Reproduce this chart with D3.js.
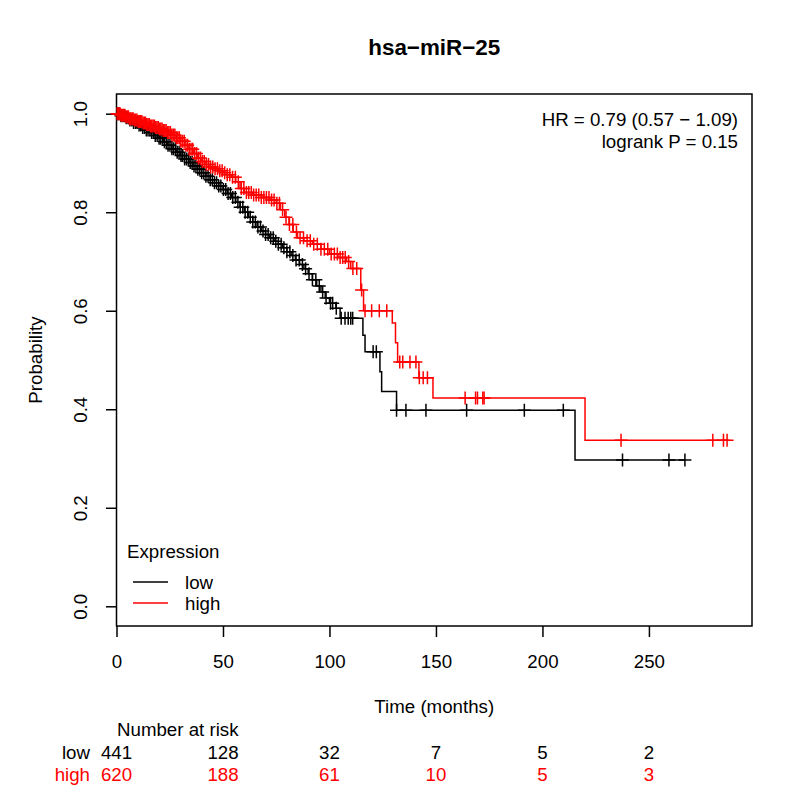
<!DOCTYPE html>
<html>
<head>
    <meta charset="utf-8" />
    <title>hsa-miR-25</title>
    <style>
        body { margin: 0; background: #fff; }
        text { font-family: "Liberation Sans", Arial, sans-serif; }
    </style>
</head>
<body>
    <div id="chart"></div>
    <script src="https://cdn.jsdelivr.net/npm/d3@7"></script>
    <script>
        // ---------------- data ----------------
        var title = "hsa\u2212miR\u221225";
        var hrText = "HR = 0.79 (0.57 \u2212 1.09)";
        var pText = "logrank P = 0.15";
        var groups = ["low", "high"];
        var groupColors = ["#000000", "#ff0000"];

        // [time, survival after the drop]
        var lowSteps = [[0,1],[2,0.996],[4,0.992],[6,0.987],[8,0.982],[10,0.977],[12,0.972],[14,0.967],[16,0.962],[18,0.956],
            [20,0.95],[22,0.943],[24,0.936],[26,0.929],[28,0.922],[30,0.915],[32,0.908],[34,0.901],[36,0.894],[38,0.887],
            [40,0.88],[42,0.873],[44,0.866],[46,0.86],[48,0.853],[50,0.846],[52,0.838],[54,0.83],[56,0.82],[58,0.81],
            [60,0.8],[62,0.79],[64,0.78],[66,0.77],[68,0.762],[70,0.755],[72,0.748],[74,0.741],[76,0.735],[78,0.728],
            [80,0.72],[82,0.712],[84,0.703],[86,0.694],[88,0.685],[90,0.675],[92,0.663],[94,0.65],[96,0.638],[98,0.626],
            [100,0.615],[103,0.605],[105,0.585],[115.7,0.55],[116.7,0.517],[123.7,0.476],[124.5,0.436],[131.5,0.398],[215.3,0.297]];
        var lowCensor = [0.5,1.2,2.1,3,3.8,4.6,5.5,6.3,7.2,8,8.9,9.7,10.6,11.4,12.3,13.1,14,14.8,15.7,16.5,17.4,18.2,19.1,20,
            20.8,21.7,22.5,23.4,24.2,25.1,26,26.8,27.7,28.5,29.4,30.3,31.1,32,32.9,33.8,34.6,35.5,36.4,37.3,38.2,39.1,40,
            41,42,43,44,45,46,47,48,49,50.2,51.3,52.4,53.5,54.6,55.8,57,58.1,59.3,60.4,61.6,62.8,64,65.2,66.4,67.6,68.8,70,
            71.2,72.4,73.6,74.8,76,77.3,78.6,80,81.4,82.8,84.3,85.8,87.3,88.8,90.4,92,93.6,95.2,96.8,98.4,100.5,101.5,103.2,
            105.5,107.3,108.8,110,110.9,120.5,122,131.5,135.9,145.3,164.4,191.5,209.8,237.6,259.4,266.9];

        var highSteps = [[0,1],[2,0.997],[4,0.994],[6,0.99],[8,0.987],[10,0.984],[12,0.981],[14,0.978],[16,0.975],[18,0.972],
            [20,0.969],[22,0.966],[24,0.962],[26,0.957],[28,0.951],[30,0.944],[32,0.936],[34,0.928],[36,0.919],[38,0.91],
            [40,0.903],[42,0.897],[44,0.892],[46,0.888],[48,0.884],[50,0.88],[52,0.876],[54,0.871],[56,0.862],[58,0.848],
            [60,0.84],[64,0.835],[68,0.83],[72,0.825],[75,0.818],[77,0.805],[79,0.79],[81,0.775],[83,0.76],[85,0.748],
            [88,0.742],[92,0.735],[96,0.725],[100,0.715],[104,0.708],[108,0.7],[110,0.686],[114.7,0.642],[116,0.6],
            [129.5,0.575],[131,0.535],[132,0.496],[142,0.464],[148.6,0.423],[220,0.337]];
        var highCensor = [0.3,0.8,1.2,1.7,2.2,2.8,3.3,3.9,4.4,5,5.6,6.1,6.7,7.3,7.8,8.4,9,9.6,10.2,10.8,11.3,11.9,12.5,13.1,
            13.6,14.2,14.8,15.4,16,16.6,17.2,17.8,18.4,19,19.6,20.2,20.8,21.4,22,22.7,23.3,24,24.6,25.3,26,26.7,27.4,28.1,
            28.8,29.5,30.2,31,31.8,32.6,33.4,34.2,35,35.8,36.7,37.6,38.5,39.4,40.3,41.2,42.2,43.2,44.2,45.2,46.3,47.4,48.5,
            49.6,50.8,52,53.2,54.5,55.8,57.2,58.6,59.8,61,62.1,63.3,64.4,65.6,66.8,68,69.2,70.4,71.6,72.8,74,75.3,76.5,78,
            79.6,81.2,82.8,84.5,86.2,87.8,89.5,91,92.6,94.3,96,97.6,99.2,100.8,102.3,103.7,105,106.2,107.4,109,111,112.8,
            115.1,116.7,119.8,123.4,126.9,133,134.4,137.8,140.6,142.2,144,146,163.7,168.6,169.5,172,172.6,236.9,280,285,286.7];

        var riskTimes = [0, 50, 100, 150, 200, 250];
        var lowRisk = [441, 128, 32, 7, 5, 2];
        var highRisk = [620, 188, 61, 10, 5, 3];
        var xTicks = [0, 50, 100, 150, 200, 250];
        var yTicks = [0, 0.2, 0.4, 0.6, 0.8, 1.0];
        // ------------------------------------------------------------

        var margins = { left: 116.5, right: 48, top: 94, bottom: 174 };
        var width = 800 - margins.left - margins.right;
        var height = 800 - margins.top - margins.bottom;
        var fontSize = 18.7;
        var lineWidth = 1.5;

        var root = d3.select("#chart")
            .append("svg")
            .attr("width", 800)
            .attr("height", 800);
        var svg = root.append("g")
            .attr("transform", "translate(" + margins.left + "," + margins.top + ")");

        var x = d3.scaleLinear().domain([0, 298.4]).range([0, width]);
        var y = d3.scaleLinear().domain([-0.04, 1.04]).range([height, 0]);

        // axes
        var xAxis = d3.axisBottom(x).tickValues(xTicks).tickSize(11).tickSizeOuter(0).tickPadding(17.5);
        var yAxis = d3.axisLeft(y).tickValues(yTicks).tickSize(10.5).tickSizeOuter(0).tickFormat(d3.format(".1f"));

        var gx = svg.append("g")
            .attr("class", "x axis")
            .attr("transform", "translate(0," + height + ")")
            .call(xAxis);
        var gy = svg.append("g")
            .attr("class", "y axis")
            .call(yAxis);
        [gx, gy].forEach(function (g) {
            g.select(".domain").remove();
            g.selectAll("line").attr("stroke", "#000").attr("stroke-width", lineWidth);
            g.selectAll("text").attr("fill", "#000").style("font-size", fontSize + "px")
                .style("font-family", "'Liberation Sans', Arial, sans-serif");
        });
        gy.selectAll("text")
            .attr("x", null)
            .attr("dy", null)
            .attr("text-anchor", "middle")
            .attr("transform", "translate(-29.5,0) rotate(-90)");

        // box
        svg.append("rect")
            .attr("width", width)
            .attr("height", height)
            .attr("fill", "none")
            .attr("stroke", "#000")
            .attr("stroke-width", lineWidth);

        // titles
        root.append("text")
            .attr("x", margins.left + width / 2)
            .attr("y", 55)
            .attr("text-anchor", "middle")
            .style("font-size", "22.4px")
            .style("font-weight", "bold")
            .text(title);
        root.append("text")
            .attr("x", margins.left + width / 2)
            .attr("y", 713)
            .attr("text-anchor", "middle")
            .style("font-size", fontSize + "px")
            .text("Time (months)");
        root.append("text")
            .attr("transform", "translate(42," + (margins.top + height / 2) + ") rotate(-90)")
            .attr("text-anchor", "middle")
            .style("font-size", fontSize + "px")
            .text("Probability");

        // HR / logrank
        root.append("text")
            .attr("x", 738)
            .attr("y", 126)
            .attr("text-anchor", "end")
            .style("font-size", fontSize + "px")
            .text(hrText);
        root.append("text")
            .attr("x", 738)
            .attr("y", 148)
            .attr("text-anchor", "end")
            .style("font-size", fontSize + "px")
            .text(pText);

        // curves
        function survAt(steps, t) {
            var s = 1;
            steps.forEach(function (p) {
                if (p[0] <= t) s = p[1];
            });
            return s;
        }
        var curves = [
            { name: "low", steps: lowSteps, censor: lowCensor, color: groupColors[0] },
            { name: "high", steps: highSteps, censor: highCensor, color: groupColors[1] }
        ];
        var stepLine = d3.line()
            .x(function (d) { return x(d[0]); })
            .y(function (d) { return y(d[1]); })
            .curve(d3.curveStepAfter);

        curves.forEach(function (c) {
            var lastT = d3.max(c.censor);
            var pts = c.steps.concat([[lastT, survAt(c.steps, lastT)]]);
            svg.append("path")
                .datum(pts)
                .attr("class", "line-path-" + c.name)
                .attr("d", stepLine)
                .attr("fill", "none")
                .attr("stroke", c.color)
                .attr("stroke-width", lineWidth);
            svg.append("g").attr("class", "censor-" + c.name)
                .selectAll("path")
                .data(c.censor)
                .join("path")
                .attr("transform", function (t) {
                    return "translate(" + x(t) + "," + y(survAt(c.steps, t)) + ")";
                })
                .attr("d", "M-6.5,0H6.5M0,-6.5V6.5")
                .attr("fill", "none")
                .attr("stroke", c.color)
                .attr("stroke-width", lineWidth);
        });

        // legend
        var legend = root.append("g").attr("class", "legend");
        legend.append("text")
            .attr("x", 127)
            .attr("y", 558)
            .style("font-size", fontSize + "px")
            .text("Expression");
        var items = legend.selectAll(".item")
            .data(groups)
            .join("g")
            .attr("class", "item")
            .attr("transform", function (d, i) { return "translate(0," + (582 + i * 21) + ")"; });
        items.append("line")
            .attr("x1", 133).attr("x2", 168)
            .attr("stroke", function (d, i) { return groupColors[i]; })
            .attr("stroke-width", lineWidth);
        items.append("text")
            .attr("x", 185)
            .attr("y", 6.5)
            .style("font-size", fontSize + "px")
            .text(function (d) { return d; });

        // number at risk
        root.append("text")
            .attr("x", 117)
            .attr("y", 736)
            .style("font-size", fontSize + "px")
            .text("Number at risk");
        var riskRows = [lowRisk, highRisk];
        riskRows.forEach(function (row, i) {
            var rowY = 759 + i * 22;
            root.append("text")
                .attr("x", 90)
                .attr("y", rowY)
                .attr("text-anchor", "end")
                .attr("fill", groupColors[i])
                .style("font-size", fontSize + "px")
                .text(groups[i]);
            root.append("g")
                .selectAll("text")
                .data(row)
                .join("text")
                .attr("x", function (d, j) { return margins.left + x(riskTimes[j]); })
                .attr("y", rowY)
                .attr("text-anchor", "middle")
                .attr("fill", groupColors[i])
                .style("font-size", fontSize + "px")
                .text(function (d) { return d; });
        });
    </script>
</body>
</html>
